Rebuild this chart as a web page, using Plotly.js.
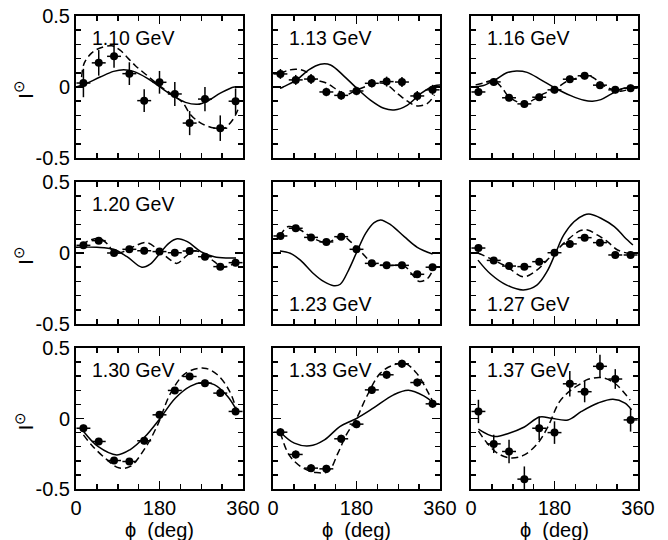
<!DOCTYPE html>
<html>
<head>
<meta charset="utf-8">
<script src="https://cdn.plot.ly/plotly-3.0.1.min.js"></script>
<style>
html,body{margin:0;padding:0;background:#fff;}
#chart{width:668px;height:540px;}
</style>
</head>
<body>
<div id="chart"></div>
<script>
// ---- data ----
var energies = ["1.10 GeV","1.13 GeV","1.16 GeV","1.20 GeV","1.23 GeV","1.27 GeV","1.30 GeV","1.33 GeV","1.37 GeV"];
var labelAtBottom = [false,false,false,false,true,true,false,false,false];
var phiBins = [16,49,82,115,147,180,213,245,278,311,344];
var phiErr = 15;
var xTitle = "\u03d5\u00a0\u00a0(deg)";
var yTitle = "I<sup>\u2299</sup>";

var y110 = [0.028,0.17,0.216,0.094,-0.096,0.033,-0.049,-0.254,-0.085,-0.29,-0.1];
var e110 = [0.10,0.09,0.08,0.08,0.08,0.08,0.085,0.085,0.085,0.09,0.09];
var y113 = [0.092,0.05,0.056,-0.035,-0.059,-0.028,0.026,0.038,0.035,-0.063,-0.02];
var e113 = [0.035,0.035,0.035,0.03,0.03,0.03,0.03,0.035,0.035,0.035,0.035];
var y116 = [-0.035,0.036,-0.076,-0.119,-0.072,-0.02,0.055,0.079,0.013,-0.02,-0.008];
var e116 = [0.025,0.025,0.025,0.025,0.025,0.025,0.025,0.025,0.025,0.025,0.025];
var y120 = [0.054,0.087,0.0,0.026,0.016,0.01,0.002,0.014,-0.026,-0.096,-0.068];
var e120 = [0.02,0.02,0.02,0.02,0.02,0.02,0.02,0.02,0.02,0.02,0.02];
var y123 = [0.12,0.174,0.11,0.078,0.115,0.026,-0.073,-0.087,-0.087,-0.15,-0.1];
var e123 = [0.02,0.02,0.02,0.02,0.02,0.02,0.02,0.02,0.02,0.02,0.02];
var y127 = [0.035,-0.052,-0.092,-0.096,-0.061,0.002,0.064,0.108,0.073,-0.014,-0.014];
var e127 = [0.02,0.02,0.02,0.02,0.02,0.02,0.02,0.02,0.02,0.02,0.02];
var y130 = [-0.069,-0.163,-0.298,-0.305,-0.158,0.026,0.199,0.298,0.25,0.18,0.05];
var e130 = [0.025,0.025,0.025,0.025,0.025,0.025,0.025,0.025,0.025,0.025,0.025];
var y133 = [-0.097,-0.255,-0.352,-0.357,-0.144,-0.04,0.203,0.31,0.388,0.255,0.104];
var e133 = [0.028,0.028,0.028,0.028,0.028,0.028,0.028,0.028,0.028,0.028,0.028];
var y137 = [0.05,-0.18,-0.234,-0.43,-0.069,-0.1,0.246,0.19,0.37,0.28,-0.01];
var e137 = [0.083,0.065,0.083,0.09,0.083,0.08,0.09,0.075,0.083,0.07,0.083];

// solid curves [phi, value]
var solid110 = [[0,0],[16,0.016],[52,0.07],[81,0.11],[103,0.122],[124,0.11],[153,0.063],[181,0],[211,-0.066],[236,-0.108],[262,-0.122],[283,-0.1],[312,-0.042],[341,0],[360,0]];
var solid113 = [[15,-0.01],[22,0],[51,0.05],[77,0.12],[102,0.16],[124,0.155],[153,0.077],[181,-0.01],[210,-0.092],[239,-0.15],[261,-0.162],[290,-0.127],[319,-0.045],[348,0.009],[360,0.014]];
var solid116 = [[0,0],[27,0.01],[52,0.05],[77,0.1],[98,0.113],[121,0.103],[150,0.052],[181,-0.007],[215,-0.061],[244,-0.094],[262,-0.1],[280,-0.089],[302,-0.05],[323,-0.014],[345,-0.005],[360,-0.003]];
var solid120 = [[0,0.04],[45,0.04],[81,0.026],[110,-0.026],[142,-0.1],[160,-0.078],[181,-0.002],[200,0.068],[218,0.1],[240,0.08],[269,0.01],[298,-0.026],[327,-0.035],[345,-0.035]];
var solid123 = [[15,0.014],[37,-0.002],[59,-0.05],[87,-0.144],[109,-0.2],[131,-0.23],[145,-0.22],[163,-0.12],[181,0.01],[200,0.14],[218,0.214],[232,0.233],[254,0.198],[283,0.115],[311,0.04],[344,-0.007]];
var solid127 = [[15,-0.05],[41,-0.144],[77,-0.226],[113,-0.26],[142,-0.226],[164,-0.13],[182,-0.002],[200,0.127],[222,0.22],[244,0.268],[258,0.273],[280,0.245],[309,0.186],[330,0.115],[349,0.056]];
var solid130 = [[16,-0.09],[48,-0.2],[88,-0.258],[117,-0.22],[149,-0.128],[181,0],[214,0.144],[247,0.23],[273,0.255],[298,0.24],[327,0.156],[346,0.06]];
var solid133 = [[16,-0.097],[46,-0.175],[79,-0.194],[111,-0.151],[144,-0.057],[166,-0.021],[181,0.002],[216,0.073],[260,0.168],[292,0.2],[325,0.16],[346,0.109]];
var solid137 = [[16,-0.076],[50,-0.128],[82,-0.104],[115,-0.06],[148,0.01],[173,0.002],[209,-0.01],[238,0.05],[274,0.11],[306,0.137],[332,0.109],[346,0.061]];

// dashed curves [phi, value]
var dash110 = [[12,0.07],[18,0.17],[34,0.24],[52,0.275],[77,0.29],[95,0.26],[113,0.2],[128,0.15],[150,0.09],[180,0.01],[210,-0.06],[230,-0.11],[247,-0.195],[269,-0.254],[298,-0.289],[320,-0.289],[338,-0.23],[349,-0.16]];
var dash113 = [[15,0.09],[30,0.115],[50,0.125],[70,0.11],[91,0.054],[116,0.026],[138,-0.02],[156,-0.056],[181,-0.02],[210,0.014],[239,0.026],[268,-0.045],[290,-0.1],[311,-0.134],[333,-0.115],[348,-0.056]];
var dash116 = [[10,0.015],[27,0.028],[48,0.047],[67,-0.007],[81,-0.066],[115,-0.12],[135,-0.089],[157,-0.047],[181,-0.014],[207,0.04],[229,0.063],[247,0.087],[265,0.063],[283,0.016],[302,-0.014],[323,-0.03],[346,-0.007]];
var dash120 = [[12,0.056],[30,0.09],[52,0.1],[70,0.056],[82,0],[103,0.01],[124,0.045],[153,0.073],[181,0.01],[204,-0.05],[218,-0.073],[236,-0.026],[254,0.016],[276,-0.007],[298,-0.061],[316,-0.1],[334,-0.085],[346,-0.061]];
var dash123 = [[15,0.12],[33,0.186],[59,0.162],[83,0.11],[116,0.073],[150,0.12],[167,0.08],[189,0.01],[216,-0.073],[249,-0.087],[283,-0.092],[301,-0.155],[315,-0.2],[333,-0.18],[346,-0.108]];
var dash127 = [[15,0],[41,-0.038],[77,-0.096],[113,-0.167],[142,-0.12],[164,-0.05],[182,0.01],[208,0.092],[236,0.158],[251,0.162],[272,0.127],[294,0.08],[316,0.021],[338,-0.002],[349,-0.007]];
var dash130 = [[16,-0.116],[34,-0.19],[59,-0.27],[92,-0.35],[117,-0.34],[149,-0.21],[176,-0.045],[204,0.18],[236,0.32],[276,0.357],[305,0.31],[330,0.2],[345,0.073]];
var dash133 = [[16,-0.1],[35,-0.26],[64,-0.35],[93,-0.383],[119,-0.376],[140,-0.246],[158,-0.116],[180,0],[202,0.156],[231,0.32],[260,0.38],[285,0.39],[310,0.32],[332,0.2],[346,0.109]];
var dash137 = [[16,-0.09],[35,-0.175],[57,-0.246],[86,-0.28],[115,-0.258],[144,-0.175],[166,-0.057],[191,0.12],[216,0.203],[238,0.25],[249,0.274],[281,0.29],[310,0.25],[343,0.13]];

var dataY = [y110,y113,y116,y120,y123,y127,y130,y133,y137];
var dataE = [e110,e113,e116,e120,e123,e127,e130,e133,e137];
var solids = [solid110,solid113,solid116,solid120,solid123,solid127,solid130,solid133,solid137];
var dashes = [dash110,dash113,dash116,dash120,dash123,dash127,dash130,dash133,dash137];

// ---- layout geometry (pixels) ----
var W = 668, H = 540;
var cols = [[76,243],[273,440],[471,638]];
var rows = [[16,158],[182,324],[348,489]];
var FONT = "Liberation Sans, Arial, Helvetica, sans-serif";

var traces = [];
var layout = {
  width: W, height: H,
  margin: {l:0, r:0, t:0, b:0},
  paper_bgcolor: "#fff", plot_bgcolor: "#fff",
  showlegend: false,
  font: {family: FONT, size: 19, color: "#000"},
  annotations: []
};

for (var i = 0; i < 9; i++) {
  var r = Math.floor(i / 3), c = i % 3;
  var n = i + 1;
  var xa = "x" + (n === 1 ? "" : n), ya = "y" + (n === 1 ? "" : n);
  var xk = "xaxis" + (n === 1 ? "" : n), yk = "yaxis" + (n === 1 ? "" : n);

  layout[xk] = {
    domain: [cols[c][0] / W, cols[c][1] / W],
    anchor: ya, range: [0, 360], fixedrange: true,
    showline: true, linecolor: "#000", linewidth: 2, mirror: "allticks",
    ticks: "inside", ticklen: 8, tickwidth: 1.5, tickcolor: "#000",
    tickmode: "array", tickvals: [0, 180, 360], ticktext: ["0", "180", "360"],
    showticklabels: r === 2, tickfont: {family: FONT, size: 20, color: "#000"},
    minor: {tickmode: "array", tickvals: [45, 90, 135, 225, 270, 315], ticks: "inside", ticklen: 5, tickwidth: 1.5, tickcolor: "#000"},
    showgrid: false, zeroline: false
  };
  layout[yk] = {
    domain: [1 - rows[r][1] / H, 1 - rows[r][0] / H],
    anchor: xa, range: [-0.5, 0.5], fixedrange: true,
    showline: true, linecolor: "#000", linewidth: 2, mirror: "allticks",
    ticks: "inside", ticklen: 8, tickwidth: 1.5, tickcolor: "#000",
    tickmode: "array", tickvals: [-0.5, 0, 0.5], ticktext: ["-0.5", "0", "0.5"],
    showticklabels: c === 0, tickfont: {family: FONT, size: 20, color: "#000"},
    minor: {tickmode: "array", tickvals: [-0.4,-0.3,-0.2,-0.1,0.1,0.2,0.3,0.4], ticks: "inside", ticklen: 5, tickwidth: 1.5, tickcolor: "#000"},
    showgrid: false, zeroline: false
  };

  traces.push({
    type: "scatter", mode: "lines", xaxis: xa, yaxis: ya,
    x: solids[i].map(function(p){return p[0];}), y: solids[i].map(function(p){return p[1];}),
    line: {color: "#000", width: 1.5, shape: "spline", smoothing: 1}, hoverinfo: "skip"
  });
  traces.push({
    type: "scatter", mode: "lines", xaxis: xa, yaxis: ya,
    x: dashes[i].map(function(p){return p[0];}), y: dashes[i].map(function(p){return p[1];}),
    line: {color: "#000", width: 1.5, dash: "7px,4px", shape: "spline", smoothing: 1}, hoverinfo: "skip"
  });
  traces.push({
    type: "scatter", mode: "markers", xaxis: xa, yaxis: ya,
    x: phiBins, y: dataY[i],
    marker: {color: "#000", size: 8},
    error_y: {type: "data", array: dataE[i], visible: true, color: "#000", thickness: 1.5, width: 0},
    error_x: {type: "constant", value: phiErr, visible: true, color: "#000", thickness: 1.5, width: 0}
  });

  layout.annotations.push({
    xref: xa, yref: ya, x: 31, y: labelAtBottom[i] ? -0.36 : 0.345,
    xanchor: "left", yanchor: "middle", showarrow: false,
    text: energies[i], font: {family: FONT, size: 19.5, color: "#000"}
  });

  if (r === 2) {
    layout.annotations.push({
      xref: "paper", yref: "paper", x: (cols[c][0] + cols[c][1]) / 2 / W, y: 1 - 530 / H,
      xanchor: "center", yanchor: "middle", showarrow: false,
      text: xTitle, font: {family: FONT, size: 20, color: "#000"}
    });
  }

  if (c === 0) {
    layout.annotations.push({
      xref: "paper", yref: "paper", x: 24 / W, y: 1 - ((rows[r][0] + rows[r][1]) / 2 + 3) / H,
      xanchor: "center", yanchor: "middle", showarrow: false, textangle: -90,
      text: yTitle, font: {family: FONT, size: 21, color: "#000"}
    });
  }
}

Plotly.newPlot("chart", traces, layout, {staticPlot: true, displayModeBar: false});
</script>
</body>
</html>
